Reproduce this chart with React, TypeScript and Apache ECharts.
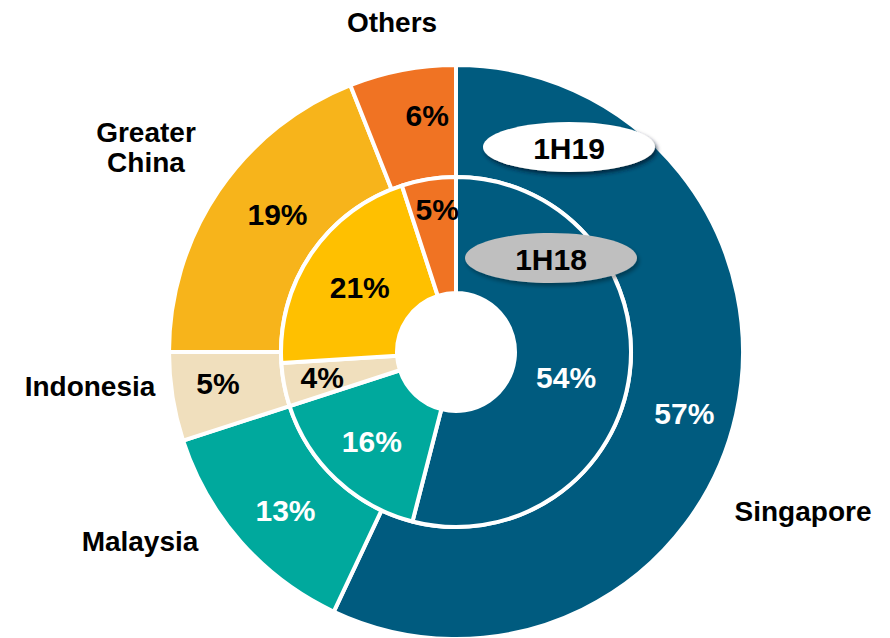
import React, { useEffect, useRef } from "react";
import * as echarts from "echarts";

const categories = ["Singapore", "Malaysia", "Indonesia", "Greater China", "Others"];
const nameLabels = ["Singapore", "Malaysia", "Indonesia", "Greater\nChina", "Others"];
const values1H19 = [57, 13, 5, 19, 6];
const values1H18 = [54, 16, 4, 21, 5];
const periods = ["1H19", "1H18"];

const outerColors = ["#005B7F", "#00A99D", "#F0DFBD", "#F7B41B", "#F07323"];
const innerColors = ["#005B7F", "#00A99D", "#F0DFBD", "#FFC000", "#F07323"];
const labelColors = ["#FFFFFF", "#FFFFFF", "#000000", "#000000", "#000000"];

const FONT = "'Liberation Sans', Arial, sans-serif";

// positions of the category name texts around the chart
const namePos: [number, number][] = [
  [803, 511],
  [140, 541],
  [90, 386],
  [146, 147],
  [392, 22],
];

// small label nudges [dx, dy] relative to the default inside position
const outerNudge: [number, number][] = [
  [0, 10],
  [5, 4],
  [-7, -5],
  [15, -6],
  [15, -7],
];
const innerNudge: [number, number][] = [
  [-9, 10],
  [-2, 2],
  [-16, 3],
  [3, 3],
  [0, -24],
];

const nudgePadding = ([dx, dy]: [number, number]) => [
  dy > 0 ? 2 * dy : 0,
  dx < 0 ? -2 * dx : 0,
  dy < 0 ? -2 * dy : 0,
  dx > 0 ? 2 * dx : 0,
];

export default function App() {
  const ref = useRef<HTMLDivElement>(null);

  useEffect(() => {
    if (!ref.current) return;
    const chart = echarts.init(ref.current, null, { renderer: "svg" });

    const mkData = (vals: number[], colors: string[], nudges: [number, number][]) =>
      vals.map((v, i) => ({
        name: categories[i],
        value: v,
        itemStyle: { color: colors[i] },
        label: {
          color: labelColors[i],
          padding: nudgePadding(nudges[i]),
          rich: {
            v: {
              color: labelColors[i],
              fontFamily: FONT,
              fontWeight: "bold",
              fontSize: 30,
              lineHeight: 34,
            },
          },
        },
      }));

    const labelStyle = {
      show: true,
      position: "inside" as const,
      formatter: "{v|{c}%}",
      fontFamily: FONT,
      fontWeight: "bold" as const,
      fontSize: 30,
    };

    const graphics: any[] = [];
    nameLabels.forEach((n, i) => {
      graphics.push({
        type: "text",
        x: namePos[i][0],
        y: namePos[i][1],
        style: {
          text: n,
          fill: "#000",
          font: `bold 28px ${FONT}`,
          align: "center",
          verticalAlign: "middle",
          lineHeight: 30,
        },
        z: 10,
      });
    });

    const badges = [
      { cx: 569, cy: 147, fill: "#FFFFFF", shadow: "rgba(0,25,45,0.8)" },
      { cx: 551, cy: 258, fill: "#BFBFBF", shadow: "rgba(0,0,0,0.35)" },
    ];
    badges.forEach((b, i) => {
      graphics.push({
        type: "ellipse",
        shape: { cx: b.cx, cy: b.cy, rx: 86, ry: 25 },
        style: {
          fill: b.fill,
          shadowBlur: 4,
          shadowOffsetX: 2,
          shadowOffsetY: 3,
          shadowColor: b.shadow,
        },
        z: 20,
      });
      graphics.push({
        type: "text",
        x: b.cx,
        y: b.cy + 1,
        style: {
          text: periods[i],
          fill: "#000",
          font: `bold 30px ${FONT}`,
          align: "center",
          verticalAlign: "middle",
        },
        z: 21,
      });
    });

    chart.setOption({
      animation: false,
      backgroundColor: "#FFFFFF",
      series: [
        {
          type: "pie",
          name: periods[0],
          center: [456, 352],
          radius: [175, 287],
          startAngle: 90,
          clockwise: true,
          avoidLabelOverlap: false,
          silent: true,
          itemStyle: { borderColor: "#FFFFFF", borderWidth: 4 },
          label: labelStyle,
          labelLine: { show: false },
          data: mkData(values1H19, outerColors, outerNudge),
        },
        {
          type: "pie",
          name: periods[1],
          center: [456, 352],
          radius: [59, 175],
          startAngle: 90,
          clockwise: true,
          avoidLabelOverlap: false,
          silent: true,
          itemStyle: { borderColor: "#FFFFFF", borderWidth: 4 },
          label: labelStyle,
          labelLine: { show: false },
          data: mkData(values1H18, innerColors, innerNudge),
        },
      ],
      graphic: graphics,
    });

    return () => chart.dispose();
  }, []);

  return (
    <div
      ref={ref}
      style={{ position: "fixed", left: 0, top: 0, width: 890, height: 638 }}
    />
  );
}
